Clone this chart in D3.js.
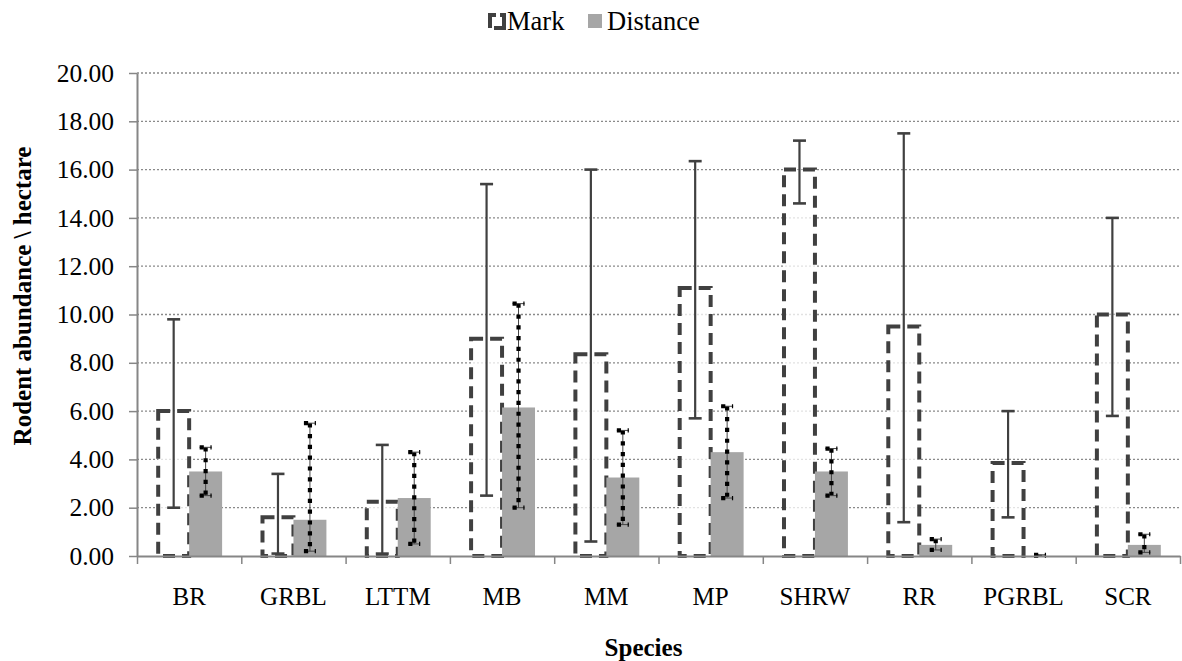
<!DOCTYPE html>
<html>
<head>
<meta charset="utf-8">
<script src="https://cdn.jsdelivr.net/npm/d3@7/dist/d3.min.js"></script>
<style>
  html, body { margin: 0; padding: 0; background: #fff; }
  svg text { font-family: "Liberation Serif", "Times New Roman", Times, serif !important; fill: #000; }
</style>
</head>
<body>
<svg id="chart" width="1182" height="661"></svg>
<script>
// Rodent abundance per hectare: mark-recapture vs distance sampling
const categories = ["BR", "GRBL", "LTTM", "MB", "MM", "MP", "SHRW", "RR", "PGRBL", "SCR"];
const seriesNames = ["Mark", "Distance"];

const markValues = [6.0, 1.6, 2.25, 9.0, 8.35, 11.1, 16.0, 9.5, 3.85, 10.0];
const markLow    = [2.0, 0.1, 0.1, 2.5, 0.6, 5.7, 14.6, 1.4, 1.6, 5.8];
const markHigh   = [9.8, 3.4, 4.6, 15.4, 16.0, 16.35, 17.2, 17.5, 6.0, 14.0];

const distanceValues = [3.5, 1.5, 2.4, 6.15, 3.25, 4.3, 3.5, 0.46, 0.0, 0.46];
const distanceLow    = [2.5, 0.2, 0.5, 2.0, 1.3, 2.4, 2.5, 0.25, 0.0, 0.15];
const distanceHigh   = [4.5, 5.5, 4.3, 10.45, 5.2, 6.2, 4.45, 0.7, 0.05, 0.9];

const yTicks = [0, 2, 4, 6, 8, 10, 12, 14, 16, 18, 20];

const svg = d3.select("#chart");
const margin = { left: 137, right: 2, top: 73, bottom: 105 };
const W = 1182, H = 661;
const plotL = margin.left, plotR = W - margin.right;
const plotT = margin.top, plotB = H - margin.bottom;

const axisColor = "#868686";
const FS = 25;

const x = d3.scaleBand().domain(categories).range([plotL, plotR]).padding(0);
const bw = x.bandwidth();
const xs = d3.scaleBand().domain(seriesNames).range([bw * 0.184, bw * 0.816]).padding(0);
const y = d3.scaleLinear().domain([0, 20]).range([plotB, plotT]);

// horizontal dotted gridlines
svg.append("g").selectAll("line")
  .data(yTicks.filter(t => t > 0))
  .join("line")
  .attr("x1", plotL).attr("x2", plotR)
  .attr("y1", d => y(d)).attr("y2", d => y(d))
  .attr("stroke", "#8a8a8a").attr("stroke-width", 1.3)
  .attr("stroke-dasharray", "2,2");

const markData = categories.map((c, i) => ({ c, v: markValues[i], lo: markLow[i], hi: markHigh[i] }));
const distData = categories.map((c, i) => ({ c, v: distanceValues[i], lo: distanceLow[i], hi: distanceHigh[i] }));

// Mark bars: translucent white fill with heavy dashed outline
svg.append("g").selectAll("rect")
  .data(markData)
  .join("rect")
  .attr("x", d => x(d.c) + xs("Mark") + 2)
  .attr("y", d => y(d.v))
  .attr("width", xs.bandwidth() - 2)
  .attr("height", d => y(0) - y(d.v))
  .attr("fill", "#fff").attr("fill-opacity", 0.75)
  .attr("stroke", "#404040").attr("stroke-width", 4)
  .attr("stroke-dasharray", "12,7");

// Distance bars: solid grey
svg.append("g").selectAll("rect")
  .data(distData)
  .join("rect")
  .attr("x", d => x(d.c) + xs("Distance"))
  .attr("y", d => y(d.v))
  .attr("width", xs.bandwidth())
  .attr("height", d => y(0) - y(d.v))
  .attr("fill", "#a6a6a6");

// Mark error bars: solid dark lines with caps
const gMarkErr = svg.append("g").attr("stroke", "#404040").attr("stroke-width", 2.2);
markData.forEach(d => {
  const cx = x(d.c) + xs("Mark") + xs.bandwidth() / 2 + 1;
  gMarkErr.append("line").attr("x1", cx).attr("x2", cx).attr("y1", y(d.lo)).attr("y2", y(d.hi));
  [d.lo, d.hi].forEach(v => {
    gMarkErr.append("line").attr("x1", cx - 6.5).attr("x2", cx + 6.5).attr("y1", y(v)).attr("y2", y(v))
      .attr("stroke-width", 2.6);
  });
});

// Distance error bars: thin line overlaid with square dots
const gDistErr = svg.append("g");
distData.forEach(d => {
  const cx = x(d.c) + xs("Distance") + xs.bandwidth() / 2;
  const segs = [
    [cx, y(d.hi), cx, y(d.lo)],
    [cx - 6, y(d.hi), cx + 6, y(d.hi)],
    [cx - 6, y(d.lo), cx + 6, y(d.lo)]
  ];
  segs.forEach(s => {
    gDistErr.append("line").attr("x1", s[0]).attr("y1", s[1]).attr("x2", s[2]).attr("y2", s[3])
      .attr("stroke", "#444").attr("stroke-width", 1);
    gDistErr.append("line").attr("x1", s[0]).attr("y1", s[1]).attr("x2", s[2]).attr("y2", s[3])
      .attr("stroke", "#000").attr("stroke-width", 4.2).attr("stroke-dasharray", "4.2,6.6");
  });
});

// y axis
const yAxis = d3.axisLeft(y).tickValues(yTicks).tickFormat(d3.format(".2f")).tickSize(8).tickSizeOuter(0).tickPadding(15);
const gy = svg.append("g").attr("transform", `translate(${plotL},0)`).call(yAxis);
gy.select(".domain").attr("stroke", axisColor).attr("stroke-width", 2);
gy.selectAll(".tick line").attr("stroke", axisColor).attr("stroke-width", 1.5);
gy.selectAll(".tick text").attr("font-size", 25.5);

// x axis: boundary ticks and category labels
const xb = d3.scaleLinear().domain([0, categories.length]).range([plotL, plotR]);
const gxb = svg.append("g").attr("transform", `translate(0,${plotB})`)
  .call(d3.axisBottom(xb).ticks(categories.length).tickFormat("").tickSize(8).tickSizeOuter(0));
gxb.select(".domain").attr("stroke", axisColor).attr("stroke-width", 2);
gxb.selectAll(".tick line").attr("stroke", axisColor).attr("stroke-width", 1.5);

const gx = svg.append("g").attr("transform", `translate(0,${plotB})`)
  .call(d3.axisBottom(x).tickSize(0).tickPadding(31));
gx.select(".domain").remove();
gx.selectAll(".tick text").attr("font-size", FS);

// axis titles
svg.append("text")
  .attr("x", (plotL + plotR) / 2 - 15).attr("y", 656)
  .attr("text-anchor", "middle").attr("font-size", FS).attr("font-weight", "bold")
  .text("Species");
svg.append("text")
  .attr("transform", `translate(31,${296}) rotate(-90)`)
  .attr("text-anchor", "middle").attr("font-size", FS).attr("font-weight", "bold")
  .text("Rodent abundance \\ hectare");

// legend
const LFS = 26.5;
const lg = svg.append("g");
lg.append("path")
  .attr("d", "M490,28 V15 H496 M500,15 H504 V28 H494")
  .attr("fill", "none").attr("stroke", "#404040").attr("stroke-width", 4);
lg.append("text").attr("x", 507).attr("y", 30).attr("font-size", LFS).text("Mark");
lg.append("rect").attr("x", 588).attr("y", 14).attr("width", 14).attr("height", 14).attr("fill", "#a6a6a6");
lg.append("text").attr("x", 607).attr("y", 30).attr("font-size", LFS).text("Distance");
</script>
</body>
</html>
